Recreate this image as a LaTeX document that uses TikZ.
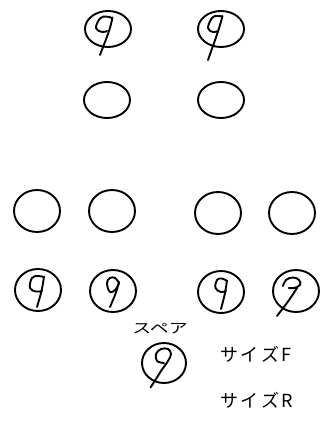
\documentclass[tikz,border=0pt]{standalone}
\usepackage{fontspec}
\usepackage{graphicx}
\newfontfamily\jpfont{Noto Sans CJK JP}
\usetikzlibrary{shapes.geometric}
\tikzset{
  tire/.style={draw, ellipse, line width=1.9pt, inner sep=0pt, minimum width=46pt, minimum height=36pt},
  tirebig/.style={tire, minimum height=42pt},
  stroke/.style={line width=1.9pt, line cap=round, line join=round},
  lbl/.style={inner sep=0pt, font=\jpfont}
}
\begin{document}
\begin{tikzpicture}[x=1pt,y=-1pt]
\useasboundingbox (0,0) rectangle (327,422);
% row 1 and 2
\node[tire] (f1) at (108,29) {};
\node[tire] (f2) at (221,29) {};
\node[tire] (g1) at (107,100) {};
\node[tire] (g2) at (221,100) {};
% row 3
\node[tirebig] (h1) at (37,211) {};
\node[tirebig] (h2) at (112,211) {};
\node[tirebig] (h3) at (218,213) {};
\node[tirebig] (h4) at (292,213) {};
% row 4
\node[tirebig] (r1) at (38,290) {};
\node[tirebig] (r2) at (113,291) {};
\node[tirebig] (r3) at (221,292) {};
\node[tirebig] (r4) at (296,291) {};
% spare
\node[tire, minimum width=44pt, minimum height=40pt] (sp) at (164,363) {};
% labels
\node[lbl] (tsp) at (160,329) {\scalebox{1.35}[1]{\fontsize{14pt}{14pt}\selectfont スペア}};
\node[lbl, anchor=west] (tf) at (220,354) {\fontsize{18pt}{18pt}\selectfont サ\kern2.5ptイ\kern2.5ptズ\kern2.5ptF};
\node[lbl, anchor=west] (tr) at (220,400) {\fontsize{18pt}{18pt}\selectfont サ\kern2.5ptイ\kern2.5ptズ\kern2.5ptR};
% nine symbols
\begin{scope}[shift={(f1.center)}]
  \draw[stroke] plot[smooth, tension=0.7] coordinates {(4,-11) (-2,-12.5) (-8,-10.5) (-12,-1) (-6,3) (-1,2)};
  \draw[stroke] (4.5,-11.5) .. controls (2,0) .. (-8,26);
\end{scope}
\begin{scope}[shift={(f2.center)}]
  \draw[stroke] plot[smooth, tension=0.7] coordinates {(1,-12.5) (-4,-13) (-9,-11) (-13,-1) (-8,3) (-3,2)};
  \draw[stroke] (1.5,-13) .. controls (-2,0) .. (-13,31);
\end{scope}
\begin{scope}[shift={(r1.center)}]
  \draw[stroke] plot[smooth, tension=0.7] coordinates {(5.5,-13) (0,-14) (-6,-12) (-8,-2) (-2,1.5) (4,1)};
  \draw[stroke] (6,-13.5) .. controls (4,0) .. (-1,17);
\end{scope}
\begin{scope}[shift={(r2.center)}]
  \draw[stroke] plot[smooth, tension=0.7] coordinates {(6,-8) (2,-13) (-3,-13) (-6,-8) (-3,1) (3,-2) (6,-8)};
  \draw[stroke] (6,-9) .. controls (3,2) .. (-3,16);
\end{scope}
\begin{scope}[shift={(r3.center)}]
  \draw[stroke] plot[smooth, tension=0.7] coordinates {(6,-11) (1,-13.5) (-4,-12) (-5.5,-4) (0,0) (5,-1)};
  \draw[stroke] (6,-11.5) .. controls (4,2) .. (0,17);
\end{scope}
\begin{scope}[shift={(r4.center)}]
  \draw[stroke] plot[smooth, tension=0.7] coordinates {(-13,-5) (-10,-11) (-3,-13.5) (3,-11) (4,-6) (-2,-3) (-7,-3)};
  \draw[stroke] (-7,-3) -- (1,-3) .. controls (-6,8) .. (-19,25);
\end{scope}
\begin{scope}[shift={(sp.center)}]
  \draw[stroke] plot[smooth, tension=0.6] coordinates {(0,0) (-7,-2) (-8,-9) (-3,-14) (4,-14) (7,-9) (4,-2) (-3,8) (-8,16) (-13.5,24.5)};
\end{scope}
\end{tikzpicture}
\end{document}
